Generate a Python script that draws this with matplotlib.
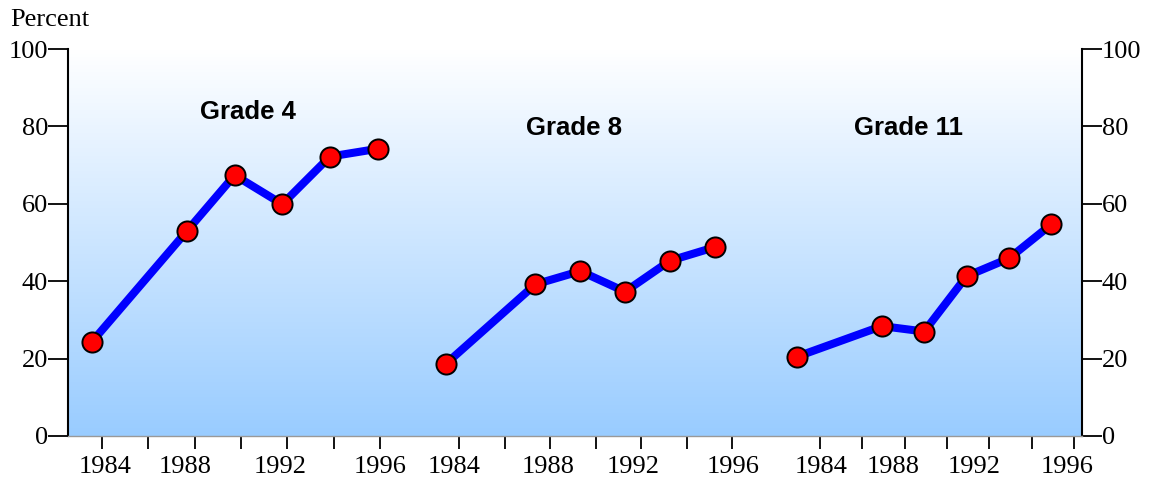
import numpy as np
import matplotlib
matplotlib.use("Agg")
import matplotlib.pyplot as plt
from matplotlib.colors import LinearSegmentedColormap

# ---------------- data ----------------
panels = ["Grade 4", "Grade 8", "Grade 11"]
years = [1984, 1988, 1990, 1992, 1994, 1996]
grade4 = [24.3, 53.0, 67.4, 59.9, 72.2, 74.2]
grade8 = [18.6, 39.2, 42.6, 37.3, 45.3, 48.8]
grade11 = [20.5, 28.4, 27.0, 41.3, 45.9, 54.7]
tick_labels = ["1984", "1988", "1992", "1996"]
y_ticks = [0, 20, 40, 60, 80, 100]

# ---------------- layout ----------------
W, H, DPI = 1152, 479, 100
AX_L, AX_R, AX_T, AX_B = 68, 1082, 49, 436
# per panel: (origin px rel. to axes left, px per year)
panel_map = [(23.8, 23.81), (377.7, 22.43), (729.0, 21.2)]
# tick mark span (first, last) and label centres, px rel. to axes left
tick_span = [(34, 312), (391, 664), (752, 1006)]
label_pos = [(37, 117, 212, 312), (386, 480, 565, 665), (753, 825, 906, 999)]
title_pos = [(179.5, 83.7), (506, 79.6), (840, 79.6)]
FS = 19

fig = plt.figure(figsize=(W / DPI, H / DPI), dpi=DPI)
ax = fig.add_axes([AX_L / W, 1 - AX_B / H, (AX_R - AX_L) / W, (AX_B - AX_T) / H])
ax.set_xlim(0, AX_R - AX_L)
ax.set_ylim(0, 100)

# gradient background
cmap = LinearSegmentedColormap.from_list("bg", ["#99CCFF", "#FFFFFF"])
grad = np.linspace(0, 1, 256).reshape(-1, 1)
ax.imshow(grad, cmap=cmap, origin="lower", aspect="auto",
          extent=[0, AX_R - AX_L, 0, 100], zorder=0)

serif = "Liberation Serif"
sans = "Liberation Sans"

series = [grade4, grade8, grade11]
for (org, ppy), vals, name, (tx, ty) in zip(panel_map, series, panels, title_pos):
    xs = [org + ppy * (yr - years[0]) for yr in years]
    ax.plot(xs, vals, color="#0000FF", lw=5.8, zorder=2, solid_capstyle="butt")
    ax.plot(xs, vals, ls="none", marker="o", ms=14.5, mfc="#FF0000",
            mec="black", mew=1.4, zorder=3)
    ax.text(tx, ty, name, ha="center", va="center", fontsize=18.5,
            fontweight="bold", family=sans, zorder=4)

# x ticks
major_ticks = []
for a, b in tick_span:
    major_ticks += list(np.linspace(a, b, 7))
ax.set_xticks(major_ticks)
ax.set_xticklabels([])
ax.tick_params(axis="x", which="major", direction="out", length=9.4,
               width=1.3, color="black")
for lp in label_pos:
    for x, lab in zip(lp, tick_labels):
        ax.text(x, -5.2, lab, ha="center", va="top", fontsize=FS,
                family=serif, transform=ax.transData, clip_on=False)

# y axes
ax.set_yticks(y_ticks)
ax.set_yticklabels([str(v) for v in y_ticks], fontsize=FS, family=serif)
ax.tick_params(axis="y", which="major", direction="out", length=14.4,
               width=1.3, pad=0, left=True, right=True,
               labelleft=True, labelright=True, color="black")
for lab in ax.get_yticklabels(which="both"):
    lab.set_family(serif)
    lab.set_fontsize(FS)

for s in ["left", "right"]:
    ax.spines[s].set_linewidth(1.5)
    ax.spines[s].set_color("black")
ax.spines["top"].set_visible(False)
ax.spines["bottom"].set_color("#999999")
ax.spines["bottom"].set_linewidth(1.0)

fig.text(10 / W, 1 - 20 / H, "Percent", ha="left", va="center",
         fontsize=FS, family=serif)

fig.savefig("out.png", dpi=DPI)
